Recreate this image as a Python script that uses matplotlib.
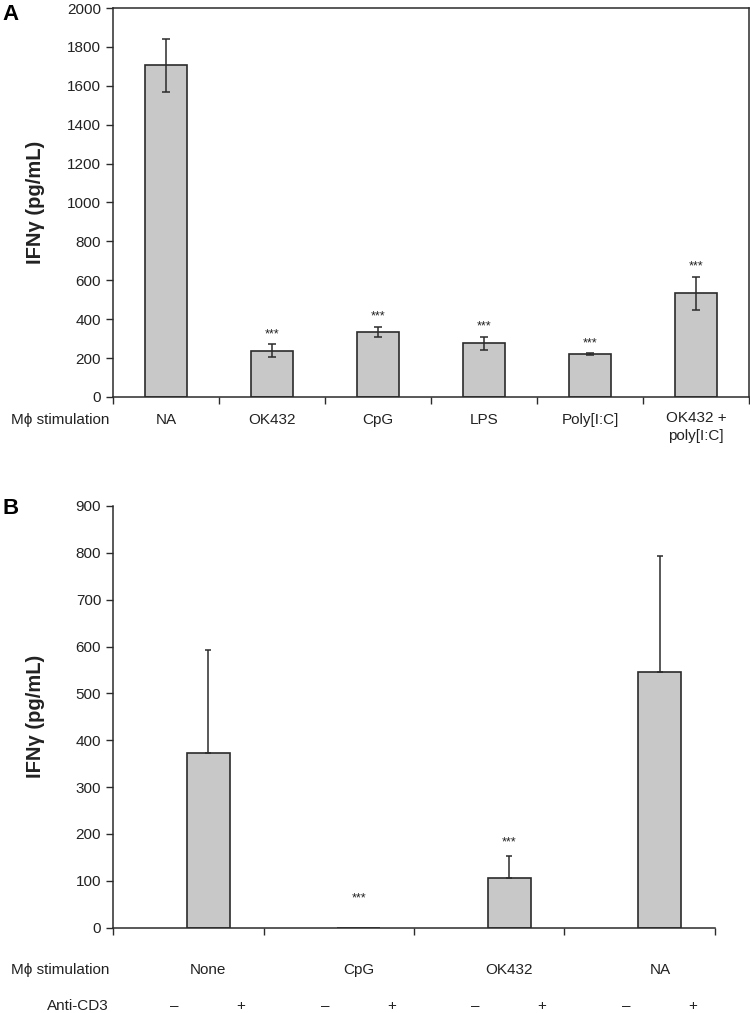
import matplotlib.pyplot as plt
import matplotlib.transforms as mtransforms

plt.rcParams['font.family'] = ['Liberation Sans', 'DejaVu Sans']

# Panel A data
a_labels = ['NA', 'OK432', 'CpG', 'LPS', 'Poly[I:C]', 'OK432 +\npoly[I:C]']
a_values = [1705, 237, 334, 276, 220, 533]
a_errors = [135, 33, 27, 32, 5, 85]
a_stars = ['', '***', '***', '***', '***', '***']

# Panel B data
b_labels = ['None', 'CpG', 'OK432', 'NA']
b_values = [373, 0, 106, 546]
b_errors = [219, 0, 46, 247]
b_stars = ['', '***', '***', '']
b_signs = ['\u2013', '+']

bar_color = '#c8c8c8'
edge_color = '#2b2b2b'
text_color = '#222222'
fs = 11

fig = plt.figure(figsize=(7.5, 10.13), dpi=100)

# ---------- Panel A ----------
axA = fig.add_axes([0.1507, 0.6081, 0.848, 0.3840])
xa = [i + 0.5 for i in range(len(a_values))]
axA.bar(xa, a_values, width=0.4, color=bar_color, edgecolor=edge_color, linewidth=1.2, zorder=2)
axA.errorbar(xa, a_values, yerr=a_errors, fmt='none', ecolor=edge_color,
             elinewidth=1.1, capsize=3, capthick=1.1, zorder=3)
for x, v, e, s in zip(xa, a_values, a_errors, a_stars):
    if s:
        axA.text(x, v + e + 22, s, ha='center', va='bottom', fontsize=9, color=text_color)

axA.set_xlim(0, len(a_values))
axA.set_ylim(0, 2000)
axA.set_yticks(range(0, 2001, 200))
axA.set_xticks(range(len(a_values) + 1))
axA.set_xticklabels([])
axA.tick_params(axis='both', direction='out', length=5, width=1, colors=edge_color,
                labelsize=fs, labelcolor=text_color)
for sp in axA.spines.values():
    sp.set_color(edge_color)
    sp.set_linewidth(1.1)
axA.set_ylabel('IFN\u03b3 (pg/mL)', fontsize=14.5, fontweight='bold', color=text_color)
axA.yaxis.set_label_coords(-0.107, 0.5)

transA = mtransforms.blended_transform_factory(axA.transData, fig.transFigure)
lab_y_a = 1 - 420 / 1013
for x, lab in zip(xa, a_labels):
    if '\n' in lab:
        axA.text(x, lab_y_a + 9 / 1013, lab, transform=transA, ha='center', va='top',
                 fontsize=fs, color=text_color, linespacing=1.35)
    else:
        axA.text(x, lab_y_a, lab, transform=transA, ha='center', va='center',
                 fontsize=fs, color=text_color)
fig.text(109 / 750, lab_y_a, 'M\u03d5 stimulation', ha='right', va='center', fontsize=fs, color=text_color)
fig.text(2 / 750, 1 - 14 / 1013, 'A', ha='left', va='center', fontsize=16, fontweight='bold')

# ---------- Panel B ----------
axB = fig.add_axes([0.1507, 0.0842, 0.8026, 0.4163])
offset = 0.634
xb = [i + offset for i in range(len(b_values))]
axB.bar(xb, b_values, width=0.286, color=bar_color, edgecolor=edge_color, linewidth=1.2, zorder=2)
for x, v, e in zip(xb, b_values, b_errors):
    if e > 0:
        axB.errorbar([x], [v], yerr=[[0], [e]], fmt='none', ecolor=edge_color,
                     elinewidth=1.1, capsize=2.5, capthick=1.1, zorder=3)
for x, v, e, s in zip(xb, b_values, b_errors, b_stars):
    if s:
        y = v + e + 18 if v > 0 else 50
        axB.text(x, y, s, ha='center', va='bottom', fontsize=9, color=text_color)

axB.set_xlim(0, len(b_values))
axB.set_ylim(0, 900)
axB.set_yticks(range(0, 901, 100))
axB.set_xticks(range(len(b_values) + 1))
axB.set_xticklabels([])
axB.tick_params(axis='both', direction='out', length=5, width=1, colors=edge_color,
                labelsize=fs, labelcolor=text_color)
for side in ['top', 'right']:
    axB.spines[side].set_visible(False)
for side in ['left', 'bottom']:
    axB.spines[side].set_color(edge_color)
    axB.spines[side].set_linewidth(1.1)
axB.set_ylabel('IFN\u03b3 (pg/mL)', fontsize=14.5, fontweight='bold', color=text_color)
axB.yaxis.set_label_coords(-0.113, 0.5)

transB = mtransforms.blended_transform_factory(axB.transData, fig.transFigure)
lab_y_b = 1 - 970 / 1013
sign_y_b = 1 - 1006 / 1013
for i, lab in enumerate(b_labels):
    axB.text(i + offset, lab_y_b, lab, transform=transB, ha='center', va='center',
             fontsize=fs, color=text_color)
    axB.text(i + 0.41, sign_y_b, b_signs[0], transform=transB, ha='center', va='center',
             fontsize=fs, color=text_color)
    axB.text(i + 0.85, sign_y_b, b_signs[1], transform=transB, ha='center', va='center',
             fontsize=fs, color=text_color)
fig.text(109 / 750, lab_y_b, 'M\u03d5 stimulation', ha='right', va='center', fontsize=fs, color=text_color)
fig.text(109 / 750, sign_y_b, 'Anti-CD3', ha='right', va='center', fontsize=fs, color=text_color)
fig.text(2 / 750, 1 - 508 / 1013, 'B', ha='left', va='center', fontsize=16, fontweight='bold')

fig.savefig('out.png', dpi=100)
